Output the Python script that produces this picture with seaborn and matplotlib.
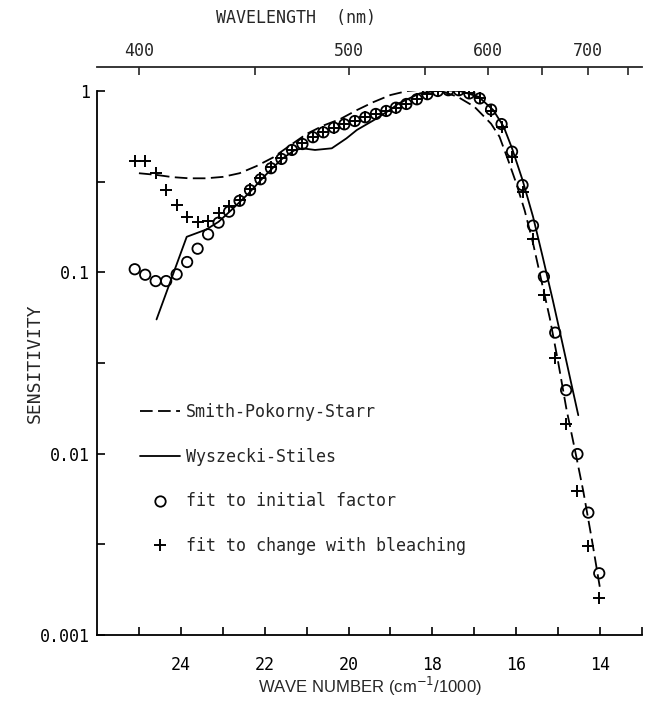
import numpy as np
import seaborn as sns
import matplotlib as mpl
import matplotlib.pyplot as plt
from matplotlib.lines import Line2D
from matplotlib.ticker import FixedLocator, NullFormatter

mpl.use('Agg')

# ---- data (wave number in cm^-1/1000) ----
fit_wn = [25.1, 24.85, 24.6, 24.35, 24.1, 23.85, 23.6, 23.35, 23.1, 22.85,
          22.6, 22.35, 22.1, 21.85, 21.6, 21.35, 21.1, 20.85, 20.6, 20.35,
          20.1, 19.85, 19.6, 19.35, 19.1, 18.87, 18.62, 18.37, 18.12, 17.87,
          17.62, 17.37, 17.12, 16.87, 16.6, 16.35, 16.1, 15.85, 15.6, 15.34,
          15.07, 14.81, 14.54, 14.28, 14.02]
initial_factor = [0.104, 0.097, 0.0895, 0.0895, 0.0975, 0.114, 0.135, 0.162, 0.188, 0.216,
                  0.248, 0.284, 0.326, 0.375, 0.422, 0.473, 0.510, 0.556, 0.592, 0.628,
                  0.655, 0.683, 0.716, 0.747, 0.776, 0.809, 0.848, 0.90, 0.96, 1.0,
                  1.01, 1.01, 0.97, 0.91, 0.79, 0.657, 0.463, 0.303, 0.181, 0.0946,
                  0.0465, 0.0224, 0.00995, 0.00473, 0.00219]
bleaching = [0.411, 0.411, 0.352, 0.284, 0.235, 0.203, 0.189, 0.192, 0.212, 0.233,
             0.25, 0.288, 0.33, 0.38, 0.425, 0.475, 0.515, 0.556, 0.592, 0.628,
             0.655, 0.683, 0.716, 0.747, 0.776, 0.809, 0.848, 0.90, 0.96, 1.0,
             1.01, 1.01, 0.97, 0.91, 0.78, 0.63, 0.431, 0.278, 0.153, 0.075,
             0.0336, 0.0146, 0.00625, 0.0031, 0.00159]

sps_wn = [25.0, 24.6, 24.2, 23.8, 23.4, 23.0, 22.6, 22.2, 21.8, 21.4, 21.0, 20.6,
          20.2, 19.8, 19.4, 19.0, 18.6, 18.2, 17.8, 17.4, 17.0, 16.6, 16.4, 16.2,
          16.0, 15.8, 15.6, 15.4, 15.2, 15.0, 14.8, 14.6, 14.4, 14.2, 14.0]
sps_sens = [0.352, 0.345, 0.335, 0.330, 0.330, 0.336, 0.352, 0.385, 0.43, 0.50, 0.58, 0.645,
            0.70, 0.785, 0.87, 0.95, 1.0, 1.02, 1.0, 0.93, 0.82, 0.66, 0.56, 0.42,
            0.31, 0.22, 0.145, 0.09, 0.056, 0.032, 0.0175, 0.0105, 0.0062, 0.0034, 0.0018]

ws_wn = [24.58, 23.86, 23.4, 23.1, 22.8, 22.4, 22.0, 21.6, 21.3, 21.1, 20.8, 20.4,
         20.05, 19.8, 19.4, 19.0, 18.8, 18.3, 17.8, 17.35, 16.9, 16.55, 16.3, 16.1,
         15.85, 15.6, 15.37, 15.13, 14.9, 14.74, 14.52]
ws_sens = [0.055, 0.157, 0.172, 0.19, 0.22, 0.27, 0.34, 0.42, 0.47, 0.483, 0.473, 0.483,
           0.548, 0.61, 0.69, 0.79, 0.855, 0.97, 1.01, 1.0, 0.93, 0.786, 0.636, 0.483,
           0.323, 0.203, 0.122, 0.0706, 0.0408, 0.0277, 0.0163]

nm_major = [400, 500, 600, 700]
nm_minor = [450, 550, 650, 750]
y_ticks = [1, 0.1, 0.01, 0.001]
y_labels = ['1', '0.1', '0.01', '0.001']

sns.set_style('ticks')
MONO = 'DejaVu Sans Mono'
plt.rcParams['font.family'] = [MONO]

fig = plt.figure(figsize=(6.55, 7.10), dpi=100)
ax = fig.add_axes([97 / 655, 1 - 635 / 710, (642 - 97) / 655, (635 - 91) / 710])

dash = (0, (7, 3))
sns.lineplot(x=sps_wn, y=sps_sens, ax=ax, color='black', lw=1.3, linestyle=dash,
             sort=False, estimator=None)
sns.lineplot(x=ws_wn, y=ws_sens, ax=ax, color='black', lw=1.3,
             sort=False, estimator=None)
sns.scatterplot(x=fit_wn, y=initial_factor, ax=ax, marker='o', s=56, linewidth=1.3, zorder=3)
ax.collections[-1].set_facecolor('none')
ax.collections[-1].set_edgecolor('black')
sns.scatterplot(x=fit_wn, y=bleaching, ax=ax, marker='+', s=64, color='black', linewidth=1.4, zorder=3)

ax.set_yscale('log')
ax.set_ylim(0.001, 1)
ax.set_xlim(26, 13)

ax.xaxis.set_major_locator(FixedLocator([24, 22, 20, 18, 16, 14]))
ax.xaxis.set_minor_locator(FixedLocator([25, 23, 21, 19, 17, 15, 13]))
ax.yaxis.set_major_locator(FixedLocator(y_ticks))
ax.yaxis.set_minor_locator(FixedLocator([10 ** -0.5, 10 ** -1.5, 10 ** -2.5]))
ax.yaxis.set_minor_formatter(NullFormatter())
ax.set_yticklabels(y_labels)

for s in ['top', 'right']:
    ax.spines[s].set_visible(False)
for s in ['left', 'bottom']:
    ax.spines[s].set_linewidth(1.3)
    ax.spines[s].set_color('black')

ax.tick_params(axis='both', which='both', direction='in', length=6, width=1.2,
               color='black', labelsize=12, labelcolor='black')
ax.tick_params(axis='x', which='both', pad=15)
ax.tick_params(axis='y', which='both', pad=5)

ax.set_xlabel('WAVE NUMBER (cm$^{-1}$/1000)', family='Liberation Sans', fontsize=12, labelpad=1)
ax.set_ylabel('')
fig.text(35 / 655, 1 - 363 / 710, 'SENSITIVITY', rotation=90, ha='center', va='center',
         fontsize=13)

# top axis: wavelength in nm
sec = ax.secondary_xaxis(1 + 24 / 544, functions=(lambda v: 1e4 / v, lambda v: 1e4 / v))
sec.xaxis.set_major_locator(FixedLocator(nm_major))
sec.xaxis.set_minor_locator(FixedLocator(nm_minor))
sec.xaxis.set_minor_formatter(NullFormatter())
sec.spines['top'].set_linewidth(1.3)
sec.tick_params(axis='x', which='both', direction='in', length=6, width=1.2,
                labelsize=12, pad=5)
fig.text(296 / 655, 1 - 18 / 710, 'WAVELENGTH  (nm)', ha='center', va='center', fontsize=12)

handles = [
    Line2D([], [], color='black', lw=1.3, linestyle=dash),
    Line2D([], [], color='black', lw=1.3),
    Line2D([], [], color='black', marker='o', mfc='none', ms=7.5, mew=1.3, linestyle=''),
    Line2D([], [], color='black', marker='+', ms=8, mew=1.4, linestyle=''),
]
labels = ['Smith-Pokorny-Starr', 'Wyszecki-Stiles', 'fit to initial factor',
          'fit to change with bleaching']
ax.legend(handles, labels, loc='upper left', bbox_to_anchor=(140 / 655, 1 - 403 / 710),
          bbox_transform=fig.transFigure, frameon=False, borderpad=0, borderaxespad=0,
          handlelength=2.4, handletextpad=0.35, labelspacing=1.6, numpoints=1,
          prop={'family': MONO, 'size': 12})

fig.savefig('out.png', dpi=100)
